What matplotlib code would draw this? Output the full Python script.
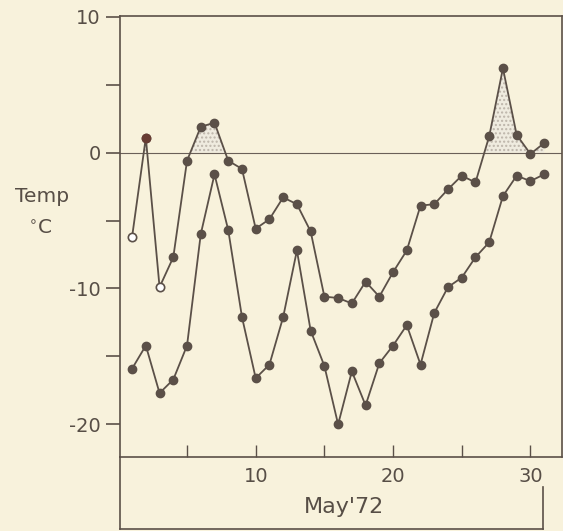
import numpy as np
import matplotlib
matplotlib.use('Agg')
import matplotlib.pyplot as plt
from matplotlib import rcParams

rcParams['font.family'] = 'DejaVu Sans'

# daily temperatures, May 1972
days = list(range(1, 32))
upper = [-6.2, 1.1, -9.9, -7.7, -0.6, 1.9, 2.2, -0.6, -1.2, -5.6,
         -4.9, -3.3, -3.8, -5.8, -10.6, -10.7, -11.1, -9.5, -10.6, -8.8,
         -7.2, -3.9, -3.8, -2.7, -1.7, -2.2, 1.2, 6.2, 1.3, -0.1, 0.7]
lower = [-15.9, -14.2, -17.7, -16.7, -14.2, -6.0, -1.6, -5.7, -12.1, -16.6,
         -15.6, -12.1, -7.2, -13.1, -15.7, -20.0, -16.1, -18.6, -15.5, -14.2,
         -12.7, -15.6, -11.8, -9.9, -9.2, -7.7, -6.6, -3.2, -1.7, -2.1, -1.6]
open_days = [1, 3]   # hollow markers on the upper curve

ytick_vals = [10, 0, -10, -20]
ytick_text = ['10', '0', '-10', '-20']
xtick_vals = [10, 20, 30]

bg = '#f8f2dc'
ink = '#5b5048'
txt = '#574e46'

fig = plt.figure(figsize=(5.63, 5.31), dpi=100, facecolor=bg)
ax = fig.add_axes([120/563, (531-457)/531, 442/563, (457-16)/531])
ax.set_facecolor(bg)
ax.set_xlim(0.12, 32.3)
ax.set_ylim(-22.4, 10.05)

x = np.array(days)
up = np.array(upper)
lo = np.array(lower)

# stippled area where the upper curve is above freezing
ax.fill_between(x, up, 0, where=up > 0, interpolate=True,
                facecolor='#efebdf', edgecolor='#bdb5aa', hatch='....',
                linewidth=0, zorder=1)

ax.axhline(0, color='#6a6058', lw=0.8, zorder=2)

ax.plot(x, lo, '-', color=ink, lw=1.3, zorder=3)
ax.plot(x, lo, 'o', color=ink, ms=6, zorder=4)
ax.plot(x, up, '-', color=ink, lw=1.3, zorder=3)
solid = [d for d in days if d not in open_days]
ax.plot(solid, [upper[d-1] for d in solid], 'o', color=ink, ms=6, zorder=4)
ax.plot(open_days, [upper[d-1] for d in open_days], 'o', mfc='white',
        mec=ink, mew=1.2, ms=6, zorder=4)
ax.plot([2], [upper[1]], 'o', color='#683c33', ms=6, zorder=5)

for s in ax.spines.values():
    s.set_color(ink)
    s.set_linewidth(1.2)

ax.set_yticks(ytick_vals)
ax.set_yticklabels(ytick_text)
ax.set_yticks([5, -5, -15], minor=True)
ax.tick_params(axis='y', which='both', direction='out', length=10, width=1.2,
               color=ink, labelsize=14, labelcolor=txt, pad=4)

ax.set_xticks(xtick_vals)
ax.set_xticks([5, 15, 25], minor=True)
ax.tick_params(axis='x', which='both', direction='in', length=9, width=1.0,
               color=ink, labelsize=14, labelcolor=txt, pad=7)

# axis title on the left
fig.text(42/563, 1 - 196/531, 'Temp', ha='center', va='center',
         fontsize=14.5, color=txt)
fig.text(40/563, 1 - 228/531, '$^{\\circ}$C', ha='center', va='center',
         fontsize=14.5, color=txt)

# month box under the x axis
ybot = -27.7
ax.plot([0.12, 0.12], [-22.4, ybot], color=ink, lw=1.2, clip_on=False)
ax.plot([0.12, 30.93], [ybot, ybot], color=ink, lw=1.2, clip_on=False)
ax.plot([30.93, 30.93], [-24.6, ybot], color=ink, lw=1.2, clip_on=False)
ax.text(16.4, -26.1, "May'72", ha='center', va='center', fontsize=16,
        color=txt, clip_on=False)

fig.savefig('out.png', dpi=100, facecolor=bg)
